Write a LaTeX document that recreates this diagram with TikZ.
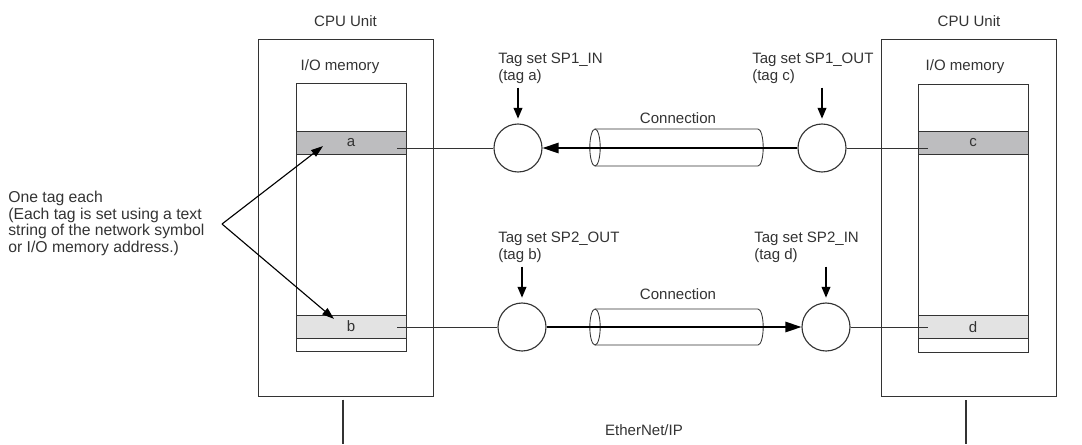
\documentclass[tikz,border=0pt]{standalone}
\usepackage{fontspec}
\setmainfont{Liberation Sans}
\usetikzlibrary{arrows.meta, positioning, calc}
\definecolor{ioDark}{HTML}{BDBDBF}
\definecolor{ioLight}{HTML}{E3E3E3}
\definecolor{ioLine}{HTML}{333333}

\begin{document}
\begin{tikzpicture}[
  font=\fontsize{10.7pt}{12pt}\selectfont,
  text=ioLine,
  unit/.style={draw=ioLine, line width=0.7pt, minimum width=4.375cm, minimum height=8.925cm},
  mem/.style={draw=ioLine, line width=0.7pt, fill=white, minimum width=2.75cm, minimum height=6.7cm},
  tagrow/.style={draw=ioLine, line width=0.7pt, minimum width=2.75cm, minimum height=0.575cm, inner sep=0pt},
  tagset/.style={circle, draw=ioLine, line width=0.8pt, minimum size=1.2cm, inner sep=0pt},
  txt/.style={inner sep=0pt, align=left},
  link/.style={draw=ioLine, line width=0.6pt},
  flow/.style={draw=black, line width=1.1pt, -{Triangle[length=0.4cm, width=0.26cm]}},
  feed/.style={draw=black, line width=0.9pt, -{Triangle[length=0.27cm, width=0.22cm]}},
  pointer/.style={draw=black, line width=0.8pt, -{Triangle[length=0.3cm, width=0.2cm]}},
  pipe/.style={draw=ioLine, line width=0.6pt},
  net/.style={draw=ioLine, line width=1.3pt},
]
\useasboundingbox (0,0) rectangle (27.05,-11.1);

% cpu units
\node[unit] (cpu1) at (8.6375,-5.4375) {};
\node[unit] (cpu2) at (24.225,-5.45) {};
\node[txt, above=0.29cm of cpu1] (cpu1lbl) {CPU Unit};
\node[txt, above=0.29cm of cpu2] (cpu2lbl) {CPU Unit};

% i/o memory
\node[txt] (mem1lbl) at (8.5,-1.675) {I/O memory};
\node[txt] (mem2lbl) at (24.125,-1.675) {I/O memory};
\node[mem] (mem1) at (8.775,-5.425) {};
\node[mem] (mem2) at (24.325,-5.45) {};
\node[tagrow, fill=ioDark]  (rowa) at (8.775,-3.5625) {a};
\node[tagrow, fill=ioLight] (rowb) at (8.775,-8.1625) {b};
\node[tagrow, fill=ioDark]  (rowc) at (24.325,-3.575) {c};
\node[tagrow, fill=ioLight] (rowd) at (24.325,-8.175) {d};

% tag sets
\node[tagset] (ca) at (12.95,-3.7) {};
\node[tagset] (cc) at (20.55,-3.7) {};
\node[tagset] (cb) at (13.05,-8.175) {};
\node[tagset] (cd) at (20.65,-8.175) {};

\node[txt, anchor=north west] (taga) at (12.45,-1.315) {Tag set SP1\_IN\\(tag a)};
\node[txt, anchor=north west] (tagc) at (18.8,-1.315) {Tag set SP1\_OUT\\(tag c)};
\node[txt, anchor=north west] (tagb) at (12.45,-5.79) {Tag set SP2\_OUT\\(tag b)};
\node[txt, anchor=north west] (tagd) at (18.85,-5.79) {Tag set SP2\_IN\\(tag d)};

\draw[feed] ([yshift=-0.1cm]ca.north |- taga.south) -- ([yshift=0.12cm]ca.north);
\draw[feed] ([yshift=-0.1cm]cc.north |- tagc.south) -- ([yshift=0.12cm]cc.north);
\draw[feed] ([yshift=-0.1cm]cb.north |- tagb.south) -- ([yshift=0.12cm]cb.north);
\draw[feed] ([yshift=-0.1cm]cd.north |- tagd.south) -- ([yshift=0.12cm]cd.north);

\draw[link] ([xshift=-0.225cm]ca.west -| rowa.east) -- (ca.west);
\draw[link] ([xshift=-0.225cm]cb.west -| rowb.east) -- (cb.west);
\draw[link] (cc.east) -- ([xshift=0.25cm]cc.east -| rowc.west);
\draw[link] (cd.east) -- ([xshift=0.25cm]cd.east -| rowd.west);

% connections
\draw[pipe] (14.875,-3.225) -- (18.95,-3.225) arc[start angle=90, end angle=-90, x radius=0.13cm, y radius=0.4625cm] -- (14.875,-4.15);
\draw[pipe] (14.875,-3.6875) ellipse[x radius=0.13cm, y radius=0.4625cm];
\draw[pipe] (14.875,-7.725) -- (18.95,-7.725) arc[start angle=90, end angle=-90, x radius=0.13cm, y radius=0.45cm] -- (14.875,-8.625);
\draw[pipe] (14.875,-8.175) ellipse[x radius=0.13cm, y radius=0.45cm];
\node[txt] (conn1) at (16.95,-2.95) {Connection};
\node[txt] (conn2) at (16.95,-7.35) {Connection};

\draw[flow] (cc.west) -- (ca.east);
\draw[flow] (cb.east) -- (cd.west);

% note on tags
\node[txt, anchor=north west, font=\fontsize{11.2pt}{11.7pt}\selectfont] (note) at (0.2,-4.775)
  {One tag each\\(Each tag is set using a text\\string of the network symbol\\or I/O memory address.)};
\coordinate (notetip) at (5.55,-5.6);
\draw[pointer] (notetip) -- ($(rowa.center)+(-0.7,-0.09)$);
\draw[pointer] (notetip) -- ($(rowb.center)+(-0.425,0.19)$);

% network
\coordinate (net1) at (8.575,-11.1);
\coordinate (net2) at (24.15,-11.1);
\draw[net] ([yshift=-0.08cm]cpu1.south -| net1) -- (net1);
\draw[net] ([yshift=-0.08cm]cpu2.south -| net2) -- (net2);
\node[txt] (netlbl) at (16.1,-10.75) {EtherNet/IP};
\end{tikzpicture}
\end{document}
